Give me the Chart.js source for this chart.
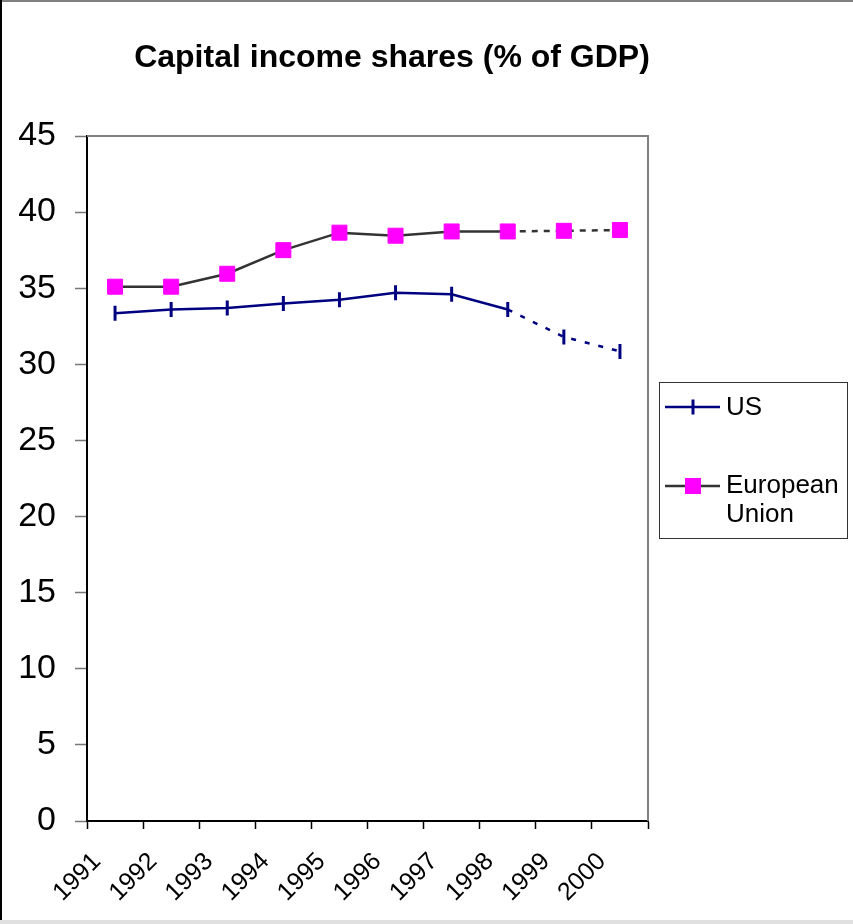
<!DOCTYPE html>
<html>
<head>
<meta charset="utf-8">
<style>
  html, body { margin: 0; padding: 0; background: #fff; }
  #wrap { position: relative; width: 853px; height: 924px; }
</style>
<script src="https://cdn.jsdelivr.net/npm/chart.js@4/dist/chart.umd.min.js"></script>
</head>
<body>
<div id="wrap"><canvas id="c" width="853" height="924"></canvas></div>
<script>
const years = ['1991','1992','1993','1994','1995','1996','1997','1998','1999','2000'];
const usValues = [33.35, 33.6, 33.7, 34.0, 34.25, 34.7, 34.6, 33.6, 31.8, 30.85];
const euValues = [35.1, 35.1, 35.95, 37.5, 38.65, 38.45, 38.73, 38.73, 38.77, 38.82];
const yTicks = [0, 5, 10, 15, 20, 25, 30, 35, 40, 45];
const chartTitle = 'Capital income shares (% of GDP)';
const seriesNames = ['US', ['European', 'Union']];
const projectionStart = 7; // segments after 1998 are dashed

const US_COLOR = '#000080';
const EU_LINE = '#333333';
const EU_MARK = '#FF00FF';
const FONT = '"Liberation Sans", Arial, sans-serif';

const decorPlugin = {
  id: 'decor',
  beforeDraw(chart) {
    const { ctx } = chart;
    ctx.save();
    ctx.fillStyle = '#fff';
    ctx.fillRect(0, 0, chart.width, chart.height);
    ctx.fillStyle = '#808080';
    ctx.fillRect(0, 0, chart.width, 2);
    ctx.fillStyle = '#000';
    ctx.fillRect(0, 0, 2, 920);
    ctx.fillStyle = '#e0e0e0';
    ctx.fillRect(0, 920, chart.width, 4);
    ctx.restore();
  },
  afterDraw(chart) {
    const { ctx, chartArea } = chart;
    ctx.save();
    ctx.strokeStyle = '#808080';
    ctx.lineWidth = 2;
    ctx.beginPath();
    ctx.moveTo(chartArea.left, chartArea.top);
    ctx.lineTo(chartArea.right, chartArea.top);
    ctx.lineTo(chartArea.right, chartArea.bottom);
    ctx.stroke();
    // title
    ctx.fillStyle = '#000';
    ctx.font = 'bold 32px ' + FONT;
    ctx.textAlign = 'center';
    ctx.textBaseline = 'middle';
    ctx.fillText(chartTitle, 392, 58);
    // legend box
    ctx.strokeStyle = '#333';
    ctx.lineWidth = 1;
    ctx.strokeRect(659.5, 382.5, 188, 156);
    ctx.strokeStyle = US_COLOR;
    ctx.lineWidth = 2.5;
    ctx.beginPath(); ctx.moveTo(665, 407); ctx.lineTo(720, 407); ctx.stroke();
    ctx.lineWidth = 3;
    ctx.beginPath(); ctx.moveTo(693, 399.5); ctx.lineTo(693, 414.5); ctx.stroke();
    ctx.strokeStyle = EU_LINE;
    ctx.lineWidth = 2.5;
    ctx.beginPath(); ctx.moveTo(665, 486); ctx.lineTo(720, 486); ctx.stroke();
    ctx.fillStyle = EU_MARK;
    ctx.fillRect(685, 478, 16, 16);
    ctx.fillStyle = '#000';
    ctx.font = '26px ' + FONT;
    ctx.textAlign = 'left';
    ctx.textBaseline = 'middle';
    ctx.fillText(seriesNames[0], 726, 408);
    ctx.fillText(seriesNames[1][0], 726, 486);
    ctx.fillText(seriesNames[1][1], 726, 515);
    ctx.restore();
  }
};

new Chart(document.getElementById('c'), {
  type: 'line',
  data: {
    labels: years,
    datasets: [
      {
        label: 'US',
        data: usValues,
        borderColor: US_COLOR,
        borderWidth: 2.5,
        pointStyle: 'line',
        rotation: 90,
        pointRadius: 7.5,
        pointBorderWidth: 3,
        pointBorderColor: US_COLOR,
        pointBackgroundColor: US_COLOR,
        tension: 0,
        segment: { borderDash: c => c.p0DataIndex >= projectionStart ? [5, 9] : undefined }
      },
      {
        label: 'European Union',
        data: euValues,
        borderColor: EU_LINE,
        borderWidth: 2.5,
        pointStyle: 'rect',
        pointRadius: 10.6,
        pointBorderWidth: 1,
        pointBorderColor: EU_MARK,
        pointBackgroundColor: EU_MARK,
        tension: 0,
        segment: { borderDash: c => c.p0DataIndex >= projectionStart ? [6, 6] : undefined }
      }
    ]
  },
  options: {
    responsive: false,
    animation: false,
    layout: { padding: { left: 0, right: 205, top: 136, bottom: 0 } },
    plugins: { legend: { display: false }, title: { display: false }, tooltip: { enabled: false } },
    scales: {
      x: {
        type: 'category',
        offset: true,
        grid: { display: true, offset: true, drawOnChartArea: false, tickLength: 8, color: '#000', tickWidth: 1.5 },
        border: { display: true, color: '#000', width: 2 },
        ticks: {
          color: '#000',
          font: { family: FONT, size: 25 },
          minRotation: 45, maxRotation: 45,
          labelOffset: -18,
          padding: 18,
          autoSkip: false
        },
        afterFit(s) { s.height = 103; }
      },
      y: {
        min: 0, max: 45,
        afterBuildTicks(s) { s.ticks = yTicks.map(v => ({ value: v })); },
        grid: { display: true, drawOnChartArea: false, tickLength: 12, color: '#777', tickWidth: 1.5 },
        border: { display: true, color: '#000', width: 2 },
        ticks: {
          color: '#000',
          font: { family: FONT, size: 34 },
          padding: 19
        },
        afterFit(s) { s.width = 87; }
      }
    }
  },
  plugins: [decorPlugin]
});
</script>
</body>
</html>
